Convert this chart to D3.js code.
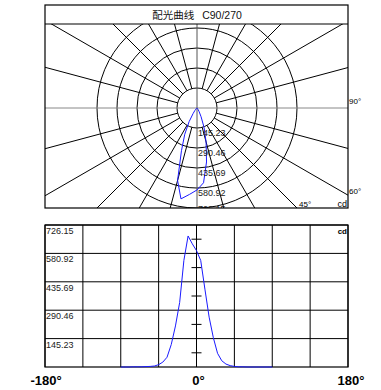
<!DOCTYPE html>
<html><head><meta charset="utf-8">
<script src="https://cdn.jsdelivr.net/npm/d3@7"></script>
<style>body{margin:0;background:#fff}svg{display:block}text{font-family:"Liberation Sans",Arial,sans-serif}</style>
</head><body><div id="chart"></div>
<script>
const title = "配光曲线";
const planeLabel = "C90/270";
const angles = [-90,-85,-80,-75,-70,-65,-60,-55,-50,-45,-40,-35,-30,-25,-20,-15,-10,-5,0,5,10,15,20,25,30,35,40,45,50,55,60,65,70,75,80,85,90];
const intensity = [0,0,0,1,1,1,2,3,5,12,25,50,115,210,330,545,670,630,595,545,398,255,150,70,32,15,7,3,1,1,0,0,0,0,0,0,0];
const ringValues = [145.23,290.46,435.69,580.92,726.15];
const ringLabels = ["145.23","290.46","435.69","580.92","726.15"];
const maxValue = 726.15;
const spokeAngles = [15,30,45,60,75,105,120,135,150,165,-15,-30,-45,-60,-75,-105,-120,-135,-150,-165];
const xTicks = [-180,-135,-90,-45,0,45,90,135,180];
const xLabels = [{v:-180,t:"-180°"},{v:0,t:"0°"},{v:180,t:"180°"}];

const W = 381, H = 390;
const svg = d3.select("#chart").append("svg").attr("width",W).attr("height",H);

// ---------- polar ----------
const box = {x0:45, x1:348, y0:5, yT:24, y1:208};
const cx = 197, cy = 108;
const r = d3.scaleLinear().domain([0,maxValue]).range([0,100]);
const defs = svg.append("defs");
defs.append("clipPath").attr("id","pclip").append("rect")
  .attr("x",box.x0).attr("y",box.yT).attr("width",box.x1-box.x0).attr("height",box.y1-box.yT);
const pg = svg.append("g").attr("clip-path","url(#pclip)");
const pt = (deg, rad) => [cx + rad*Math.sin(deg*Math.PI/180), cy + rad*Math.cos(deg*Math.PI/180)];

pg.selectAll("circle.ring").data(ringValues).join("circle")
  .attr("cx",cx).attr("cy",cy).attr("r",d=>r(d))
  .attr("fill","none").attr("stroke","#000").attr("stroke-width",1);
pg.selectAll("line.spoke").data(spokeAngles).join("line")
  .attr("x1",d=>pt(d,r(ringValues[0]))[0]).attr("y1",d=>pt(d,r(ringValues[0]))[1])
  .attr("x2",d=>pt(d,400)[0]).attr("y2",d=>pt(d,400)[1])
  .attr("stroke","#000").attr("stroke-width",1);
pg.append("line").attr("x1",box.x0).attr("x2",box.x1).attr("y1",cy).attr("y2",cy)
  .attr("stroke","#888").attr("stroke-width",1);
pg.append("line").attr("x1",cx).attr("x2",cx).attr("y1",box.yT).attr("y2",box.y1)
  .attr("stroke","#555").attr("stroke-width",1);

const radial = d3.lineRadial().angle((d,i)=>Math.PI - angles[i]*Math.PI/180).radius(d=>r(d));
pg.append("path").datum(intensity).attr("transform",`translate(${cx},${cy})`)
  .attr("d",radial).attr("fill","none").attr("stroke","#1a1aff").attr("stroke-width",1);

pg.selectAll("text.rl").data(ringValues).join("text")
  .attr("x",cx+1).attr("y",d=>Math.min(cy+r(d)+8, box.y1+4))
  .attr("font-size",9).attr("fill","#222").text((d,i)=>ringLabels[i]);

svg.append("rect").attr("x",box.x0).attr("y",box.y0).attr("width",box.x1-box.x0).attr("height",box.y1-box.y0)
  .attr("fill","none").attr("stroke","#000").attr("stroke-width",1.2);
svg.append("line").attr("x1",box.x0).attr("x2",box.x1).attr("y1",box.yT).attr("y2",box.yT)
  .attr("stroke","#000").attr("stroke-width",1.2);
const tt = svg.append("text").attr("x",197).attr("y",19).attr("text-anchor","middle").attr("font-size",10.5).attr("fill","#111");
tt.append("tspan").attr("font-family","'Noto Sans CJK SC',sans-serif").text(title);
tt.append("tspan").attr("dx",8).text(planeLabel);

svg.append("text").attr("x",349).attr("y",104).attr("font-size",8).text("90°");
svg.append("text").attr("x",349).attr("y",194).attr("font-size",8).text("60°");
svg.append("text").attr("x",299).attr("y",207).attr("font-size",8).text("45°");
svg.append("text").attr("x",347).attr("y",207).attr("text-anchor","end").attr("font-size",9).text("cd");

// ---------- cartesian ----------
const plot = {x0:45, x1:348, y0:225, y1:367};
const x = d3.scaleLinear().domain([-180,180]).range([plot.x0,plot.x1]);
const y = d3.scaleLinear().domain([0,maxValue]).range([plot.y1,plot.y0]);
const cg = svg.append("g");
cg.selectAll("line.vx").data(xTicks).join("line")
  .attr("x1",d=>x(d)).attr("x2",d=>x(d)).attr("y1",plot.y0).attr("y2",plot.y1)
  .attr("stroke","#000").attr("stroke-width",1);
cg.selectAll("line.hy").data(ringValues).join("line")
  .attr("x1",plot.x0).attr("x2",plot.x1).attr("y1",d=>y(d)).attr("y2",d=>y(d))
  .attr("stroke","#000").attr("stroke-width",1);
const mids = ringValues.map(v=>v-maxValue/10);
cg.selectAll("line.tk").data(mids).join("line")
  .attr("x1",x(0)-5).attr("x2",x(0)+5).attr("y1",d=>y(d)).attr("y2",d=>y(d))
  .attr("stroke","#000").attr("stroke-width",1);
cg.append("rect").attr("x",plot.x0).attr("y",plot.y0).attr("width",plot.x1-plot.x0).attr("height",plot.y1-plot.y0)
  .attr("fill","none").attr("stroke","#000").attr("stroke-width",1.2);
const line = d3.line().x((d,i)=>x(angles[i])).y(d=>y(d));
cg.append("path").datum(intensity).attr("d",line).attr("fill","none").attr("stroke","#1a1aff").attr("stroke-width",1);
cg.selectAll("text.yl").data(ringValues).join("text")
  .attr("x",plot.x0+1).attr("y",d=>y(d)+9).attr("font-size",9).attr("fill","#222")
  .text((d,i)=>ringLabels[i]);
cg.append("text").attr("x",plot.x1-1).attr("y",plot.y0+9).attr("text-anchor","end").attr("font-size",8).attr("font-weight","bold").text("cd");
cg.selectAll("text.xl").data(xLabels).join("text")
  .attr("x",d=>x(d.v)+(d.v===-180?1:d.v===180?3:2)).attr("y",385).attr("text-anchor","middle")
  .attr("font-size",13).attr("font-weight","bold").text(d=>d.t);
</script></body></html>
